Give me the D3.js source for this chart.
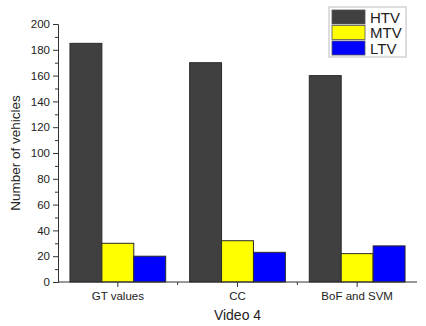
<!DOCTYPE html>
<html>
<head>
<meta charset="utf-8">
<script src="https://cdn.jsdelivr.net/npm/d3@7"></script>
<style>
  body { margin: 0; background: #fff; }
  text { font-family: Arial, "Liberation Sans", sans-serif; fill: #222; }
</style>
</head>
<body>
<svg id="chart" width="426" height="326"></svg>
<script>
// data
var methods = ["GT values", "CC", "BoF and SVM"];
var classes = ["HTV", "MTV", "LTV"];
var htv = [185, 170, 160];
var mtv = [30, 32, 22];
var ltv = [20, 23, 28];
var yTicks = [0, 20, 40, 60, 80, 100, 120, 140, 160, 180, 200];
var colors = ["#404040", "#ffff00", "#0000ff"];

var series = [htv, mtv, ltv];
var svg = d3.select("#chart");

// plot area (window.top is read-only, so not "top")
var pl = 58, pr = 417, pt = 24, pb = 282;

var x = d3.scaleBand().domain(methods).range([pl, pr]).paddingInner(0.2).paddingOuter(0.1);
var xs = d3.scaleBand().domain(classes).range([0, x.bandwidth()]);
var y = d3.scaleLinear().domain([0, 200]).range([pb, pt]);

// bars
var groups = svg.selectAll(".grp")
  .data(methods)
  .enter().append("g")
    .attr("transform", function(d) { return "translate(" + x(d) + ",0)"; });

groups.selectAll("rect")
  .data(function(d, i) { return classes.map(function(c, k) { return {c: c, v: series[k][i], k: k}; }); })
  .enter().append("rect")
    .attr("x", function(d) { return xs(d.c); })
    .attr("y", function(d) { return y(d.v); })
    .attr("width", xs.bandwidth())
    .attr("height", function(d) { return pb - y(d.v); })
    .attr("fill", function(d) { return colors[d.k]; })
    .attr("stroke", "#2a2a2a")
    .attr("stroke-width", 1);

// y axis
var yAxis = svg.append("g").attr("transform", "translate(" + pl + ",0)");
yAxis.call(d3.axisLeft(y).tickValues(yTicks).tickSize(5).tickPadding(3));
yAxis.append("g").call(d3.axisLeft(y).tickValues(d3.range(10, 200, 20)).tickSize(3).tickFormat(""));
yAxis.selectAll("g g path.domain").remove();
yAxis.selectAll("path.domain").attr("stroke", "#333");
yAxis.selectAll("line").attr("stroke", "#333");
yAxis.selectAll("text").attr("font-size", 11.5).attr("fill", "#222")
  .style("font-family", "Arial, 'Liberation Sans', sans-serif");

// x axis
var xAxis = svg.append("g").attr("transform", "translate(0," + pb + ")");
xAxis.append("line").attr("x1", pl).attr("x2", pr).attr("stroke", "#333");
var bandStep = x.step();
xAxis.selectAll(".maj")
  .data(methods)
  .enter().append("line")
    .attr("x1", function(d) { return x(d) + x.bandwidth() / 2; })
    .attr("x2", function(d) { return x(d) + x.bandwidth() / 2; })
    .attr("y1", 0).attr("y2", 5).attr("stroke", "#333");
xAxis.selectAll(".minr")
  .data(methods.slice(1))
  .enter().append("line")
    .attr("x1", function(d) { return x(d) + x.bandwidth() / 2 - bandStep / 2; })
    .attr("x2", function(d) { return x(d) + x.bandwidth() / 2 - bandStep / 2; })
    .attr("y1", 0).attr("y2", 3).attr("stroke", "#333");
xAxis.selectAll(".lbl")
  .data(methods)
  .enter().append("text")
    .attr("x", function(d) { return x(d) + x.bandwidth() / 2; })
    .attr("y", 18)
    .attr("text-anchor", "middle")
    .attr("font-size", 11.5)
    .text(function(d) { return d; });

// titles
svg.append("text")
  .attr("x", (pl + pr) / 2).attr("y", 320)
  .attr("text-anchor", "middle").attr("font-size", 14)
  .text("Video 4");
svg.append("text")
  .attr("transform", "translate(20," + ((pt + pb) / 2) + ") rotate(-90)")
  .attr("text-anchor", "middle").attr("font-size", 13.5)
  .text("Number of vehicles");

// legend
var lg = svg.append("g").attr("transform", "translate(329,7)");
lg.append("rect").attr("width", 77).attr("height", 50).attr("fill", "#fff").attr("stroke", "#bbb");
classes.forEach(function(c, k) {
  lg.append("rect").attr("x", 3).attr("y", 3 + k * 15.5).attr("width", 33).attr("height", 14)
    .attr("fill", colors[k]).attr("stroke", "#555").attr("stroke-width", 0.8);
  lg.append("text").attr("x", 41).attr("y", 15.5 + k * 15.5).attr("font-size", 15).text(c);
});
</script>
</body>
</html>
